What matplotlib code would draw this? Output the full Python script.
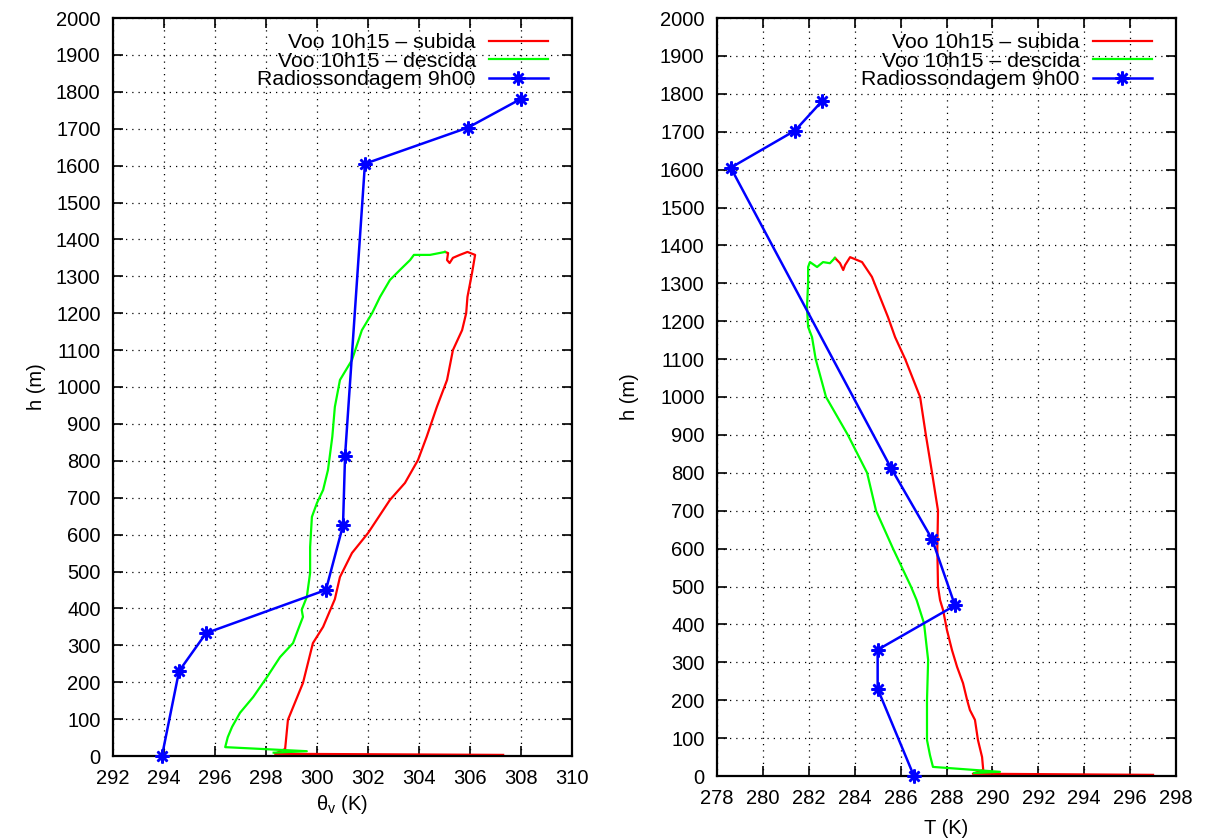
import numpy as np
import matplotlib
matplotlib.use("Agg")
import matplotlib.pyplot as plt

plt.rcParams['font.family'] = ['Liberation Sans', 'DejaVu Sans']
plt.rcParams['font.size'] = 14.5

# Radiossondagem 9h00
radio_h = [0, 230, 333, 450, 625, 813, 1605, 1703, 1781]
radio_thv = [293.92, 294.59, 295.65, 300.35, 301.02, 301.1, 301.88, 305.92, 308.0]
radio_T = [286.58, 285.0, 285.0, 288.37, 287.37, 285.58, 278.6, 281.4, 282.58]

# Voo 10h15 - subida, theta_v
sub_thv = [307.3, 298.35, 298.75, 298.86, 299.45, 299.84, 300.24, 300.7, 300.9, 301.37,
           302.0, 302.86, 303.45, 303.96, 304.3, 304.7, 305.1, 305.33, 305.69, 305.85,
           305.9, 306.08, 306.2, 305.9, 305.6, 305.33, 305.2, 305.1, 305.14, 305.02]
sub_thv_h = [3, 6, 19, 98, 198, 306, 350, 425, 485, 550,
             604, 694, 740, 802, 865, 946, 1019, 1100, 1154, 1200,
             1244, 1309, 1358, 1366, 1358, 1350, 1336, 1344, 1363, 1366]

# Voo 10h15 - descida, theta_v
des_thv = [305.02, 304.43, 303.8, 303.65, 303.25, 302.86, 302.47, 302.16, 301.76, 301.37,
           300.9, 300.7, 300.6, 300.43, 300.24, 300.0, 299.8, 299.73, 299.73, 299.6,
           299.4, 299.45, 299.25, 299.06, 298.55, 298.04, 297.5, 296.98, 296.67, 296.5,
           296.4, 299.6, 298.3]
des_thv_h = [1366, 1358, 1358, 1344, 1317, 1290, 1244, 1200, 1154, 1073,
             1019, 946, 865, 775, 721, 686, 648, 566, 496, 431,
             396, 377, 341, 306, 268, 214, 160, 117, 79, 51,
             24, 13, 9]

# Voo 10h15 - subida, T
sub_T = [297.0, 289.15, 289.6, 289.55, 289.37, 289.24, 289.02, 288.9, 288.72, 288.46,
         288.24, 288.02, 287.85, 287.72, 287.63, 287.6, 287.63, 287.37, 287.1, 286.85,
         286.2, 285.76, 285.45, 285.1, 284.75, 284.32, 283.8, 283.58, 283.5, 283.36, 283.14]
sub_T_h = [3, 6, 16, 50, 95, 148, 174, 200, 245, 288,
           332, 385, 438, 464, 500, 600, 700, 800, 900, 1000,
           1100, 1158, 1211, 1264, 1317, 1356, 1369, 1348, 1335, 1353, 1367]

# Voo 10h15 - descida, T
des_T = [283.14, 282.92, 282.62, 282.36, 282.05, 281.97, 281.97, 281.92, 281.97, 282.14,
         282.3, 282.75, 283.7, 284.54, 284.93, 285.67, 286.45, 286.7, 287.02, 287.2,
         287.15, 287.15, 287.28, 287.41, 290.33, 289.2]
des_T_h = [1367, 1353, 1356, 1343, 1356, 1343, 1301, 1237, 1185, 1158,
           1100, 1000, 900, 800, 700, 600, 500, 464, 403, 306,
           200, 95, 55, 24, 11, 8]

labels = ['Voo 10h15 – subida', 'Voo 10h15 – descida', 'Radiossondagem 9h00']


def style_axes(ax, xlim, xticks, w_px, h_px, ylabelpad):
    ax.set_xlim(*xlim)
    ax.set_ylim(0, 2000)
    ax.set_xticks(xticks)
    ax.set_yticks(np.arange(0, 2001, 100))
    ax.tick_params(direction='in', length=7, width=1.2, top=True, right=True, pad=9)
    ax.grid(True, color='black', linestyle=(0, (1, 4)), linewidth=0.9)
    for s in ax.spines.values():
        s.set_linewidth(1.6)
    ax.set_ylabel('h (m)', labelpad=ylabelpad)
    ax.legend(loc='upper right', bbox_to_anchor=(1 - 24 / w_px, 1 - 15 / h_px),
              frameon=False, markerfirst=False, handlelength=2.8, fontsize=15.3,
              labelspacing=-0.02, borderaxespad=0, borderpad=0, handletextpad=0.6)


fig = plt.figure(figsize=(12.06, 8.39), dpi=100)
ax1 = fig.add_axes([113 / 1206, 1 - 756 / 839, (572 - 113) / 1206, (756 - 18) / 839])
ax2 = fig.add_axes([717 / 1206, 1 - 776 / 839, (1176 - 717) / 1206, (776 - 18) / 839])

ax1.plot(sub_thv, sub_thv_h, color='#ff0000', lw=1.6, label=labels[0])
ax1.plot(des_thv, des_thv_h, color='#00ff00', lw=1.6, label=labels[1])
ax1.plot(radio_thv, radio_h, color='#0000ff', lw=1.8, marker=(8, 2, 0), ms=10, mew=1.8,
         label=labels[2], clip_on=False, zorder=5)
style_axes(ax1, (292, 310), np.arange(292, 311, 2), 459, 738, 7)
ax1.set_xlabel('θ$_\\mathregular{v}$ (K)', labelpad=4)

ax2.plot(sub_T, sub_T_h, color='#ff0000', lw=1.6, label=labels[0])
ax2.plot(des_T, des_T_h, color='#00ff00', lw=1.6, label=labels[1])
ax2.plot(radio_T, radio_h, color='#0000ff', lw=1.8, marker=(8, 2, 0), ms=10, mew=1.8,
         label=labels[2], clip_on=False, zorder=5)
style_axes(ax2, (278, 298), np.arange(278, 299, 2), 459, 758, 15)
ax2.set_xlabel('T (K)', labelpad=8)

fig.savefig('out.png', dpi=100)
